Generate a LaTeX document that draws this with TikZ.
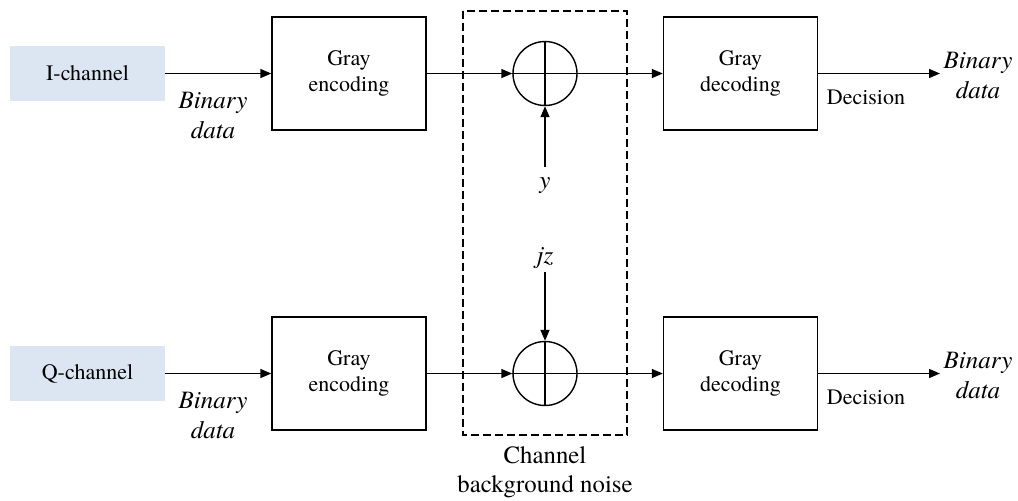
\documentclass[tikz,border=0pt]{standalone}
\usepackage{fontspec}
\setmainfont{texgyretermes}[Extension=.otf, UprightFont=*-regular, ItalicFont=*-italic,
  BoldFont=*-bold, BoldItalicFont=*-bolditalic]
\usetikzlibrary{arrows.meta,shapes}
\definecolor{chanblue}{RGB}{220,230,242}
\tikzset{%
	block/.style    = {draw, line width=0.7pt, rectangle, minimum height = 56.5pt,
		minimum width = 77pt, align=center, inner sep=0pt},
	source/.style   = {fill=chanblue, rectangle, minimum height = 27.5pt,
		minimum width = 77.5pt, inner sep=0pt}, % I/Q source
	sum/.style      = {draw, line width=0.7pt, circle, minimum size = 32pt, inner sep=0pt}, % Adder
	lbl/.style      = {align=center, font=\fontsize{12.5}{15}\selectfont\itshape, inner sep=0pt},
	link/.style     = {line width=0.7pt, -{Triangle[length=5.5pt,width=4.5pt]}}
}

\begin{document}
\begin{tikzpicture}[x=0.5pt,y=-0.5pt,font=\fontsize{11}{13}\selectfont]
			\useasboundingbox (0,0) rectangle (1018,500);
			
			% I branch
			\node[source]    (ich)  at (87.5,73.5)  {I-channel};
			\node[block]     (enc1) at (349,73.5)   {Gray\\encoding};
			\node[sum]       (sum1) at (545,73.5)   {};
			\node[block]     (dec1) at (740.5,73.5) {Gray\\decoding};
			\coordinate      (out1) at (940,73.5);
			
			% Q branch
			\node[source]    (qch)  at (87.5,373.5)  {Q-channel};
			\node[block]     (enc2) at (349,373.5)   {Gray\\encoding};
			\node[sum]       (sum2) at (545,373.5)   {};
			\node[block]     (dec2) at (740.5,373.5) {Gray\\decoding};
			\coordinate      (out2) at (940,373.5);
			
			% noise
			\draw[line width=0.6pt, dash pattern=on 4pt off 2pt] (463,11) rectangle (627,435);
			\node[align=center, font=\fontsize{12.4}{14.5}\selectfont] (noise) at (545,472.5) {Channel\\background noise};
			\node[lbl] (ynoise) at (545,186) {y};
			\coordinate      (ytop) at (545,167);
			\node[lbl] (znoise) at (545,258) {jz};
			\coordinate      (zbot) at (545,272);
			
			\foreach \r/\s in {1/ich, 2/qch}{
				\draw[link] (\s) -- (enc\r);
				\draw[link] (enc\r) -- (sum\r);
				\draw[line width=0.7pt] (sum\r.north) -- (sum\r.south);
				\draw[line width=0.7pt] (sum\r.west) -- (sum\r.east);
				\draw[link] (sum\r) -- (dec\r);
				\draw[link] (dec\r) -- (out\r);
			}
			\draw[link] (ytop) -- (sum1.south);
			\draw[link] (zbot) -- (sum2.north);
			
			% labels
			\node[lbl] (bin1) at (213,115)   {Binary\\data};
			\node[lbl] (bin2) at (213,415)   {Binary\\data};
			\node[lbl] (bout1) at (978,75)   {Binary\\data};
			\node[lbl] (bout2) at (978,375)  {Binary\\data};
			\node (dcs1) at (866,97)  {Decision};
			\node (dcs2) at (866,397) {Decision};
		\end{tikzpicture}
\end{document}
